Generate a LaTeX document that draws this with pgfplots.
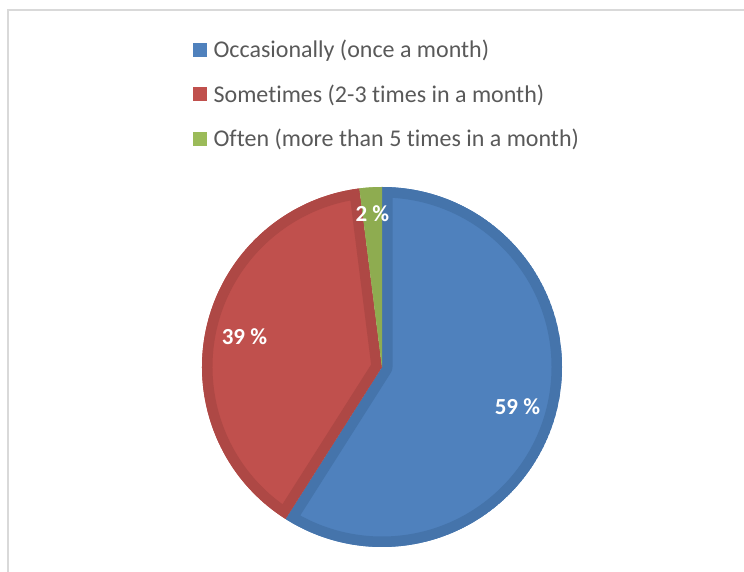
\documentclass[border=0pt]{standalone}
\usepackage{pgfplots}
\pgfplotsset{compat=1.18}
\usepackage{fontspec}
\setmainfont[Ligatures={NoCommon}]{Carlito}

\definecolor{occ}{HTML}{4F81BD}
\definecolor{occdark}{RGB}{69,116,171}
\definecolor{som}{HTML}{C0504D}
\definecolor{somdark}{RGB}{174,72,69}
\definecolor{oft}{HTML}{9BBB59}
\definecolor{oftdark}{RGB}{142,172,80}
\definecolor{legtext}{HTML}{595959}
\definecolor{frame}{HTML}{D9D9D9}

% shares in percent
\def\vocc{59}
\def\vsom{39}
\def\voft{2}

% one pie slice: start angle, end angle, fill colour, band colour
\newcommand{\pieslice}[4]{%
  \begin{scope}
    \clip (axis cs:382,205) -- ++(#1:180pt) arc[start angle=#1,end angle=#2,radius=180pt] -- cycle;
    \fill[#3] (axis cs:382,205) -- ++(#1:180pt) arc[start angle=#1,end angle=#2,radius=180pt] -- cycle;
    \draw[#4,line width=21pt,line join=round] (axis cs:382,205) -- ++(#1:180pt) arc[start angle=#1,end angle=#2,radius=180pt] -- cycle;
  \end{scope}}

\begin{document}
\begin{tikzpicture}
\pgfmathsetmacro{\aone}{90-3.6*\vocc}
\pgfmathsetmacro{\atwo}{\aone-3.6*\vsom}
\pgfmathsetmacro{\athree}{\atwo-3.6*\voft}
\pgfmathsetmacro{\mone}{(90+\aone)/2}
\pgfmathsetmacro{\mtwo}{(\aone+\atwo)/2}
\pgfmathsetmacro{\mthree}{(\atwo+\athree)/2}
\begin{axis}[
  anchor=south west, at={(0,0)},
  x=1pt, y=1pt,
  xmin=0, xmax=744, ymin=0, ymax=572,
  hide axis, clip=false,
  legend image code/.code={\fill[#1] (0pt,-6.5pt) rectangle (13pt,6.5pt);},
  legend style={at={(axis cs:193,478)}, anchor=west, draw=none, fill=none,
    font=\fontsize{24}{29}\selectfont, text=legtext,
    row sep=23.5pt, inner sep=0pt, cells={anchor=west},
    nodes={inner sep=1pt},
    /tikz/every odd column/.append style={column sep=6pt}},
]
\addlegendimage{occ}\addlegendentry{Occasionally (once a month)}
\addlegendimage{som}\addlegendentry{Sometimes (2-3 times in a month)}
\addlegendimage{oft}\addlegendentry{Often (more than 5 times in a month)}

\draw[frame,line width=2pt] (axis cs:8,0) -- (axis cs:8,562) -- (axis cs:744,562);

\pieslice{90}{\aone}{occ}{occdark}
\pieslice{\aone}{\atwo}{som}{somdark}
\pieslice{\atwo}{\athree}{oft}{oftdark}

\path (axis cs:382,205) ++(\mone:141pt) node[white,font=\fontsize{23}{28}\selectfont\bfseries] {\vocc\ \%};
\path (axis cs:382,205) ++(\mtwo:141pt) node[white,font=\fontsize{23}{28}\selectfont\bfseries] {\vsom\ \%};
\path (axis cs:382,205) ++(\mthree:154pt) node[white,font=\fontsize{23}{28}\selectfont\bfseries] {\voft\ \%};
\end{axis}
\pgfresetboundingbox
\useasboundingbox (0,0) rectangle (744pt,572pt);
\end{tikzpicture}
\end{document}
